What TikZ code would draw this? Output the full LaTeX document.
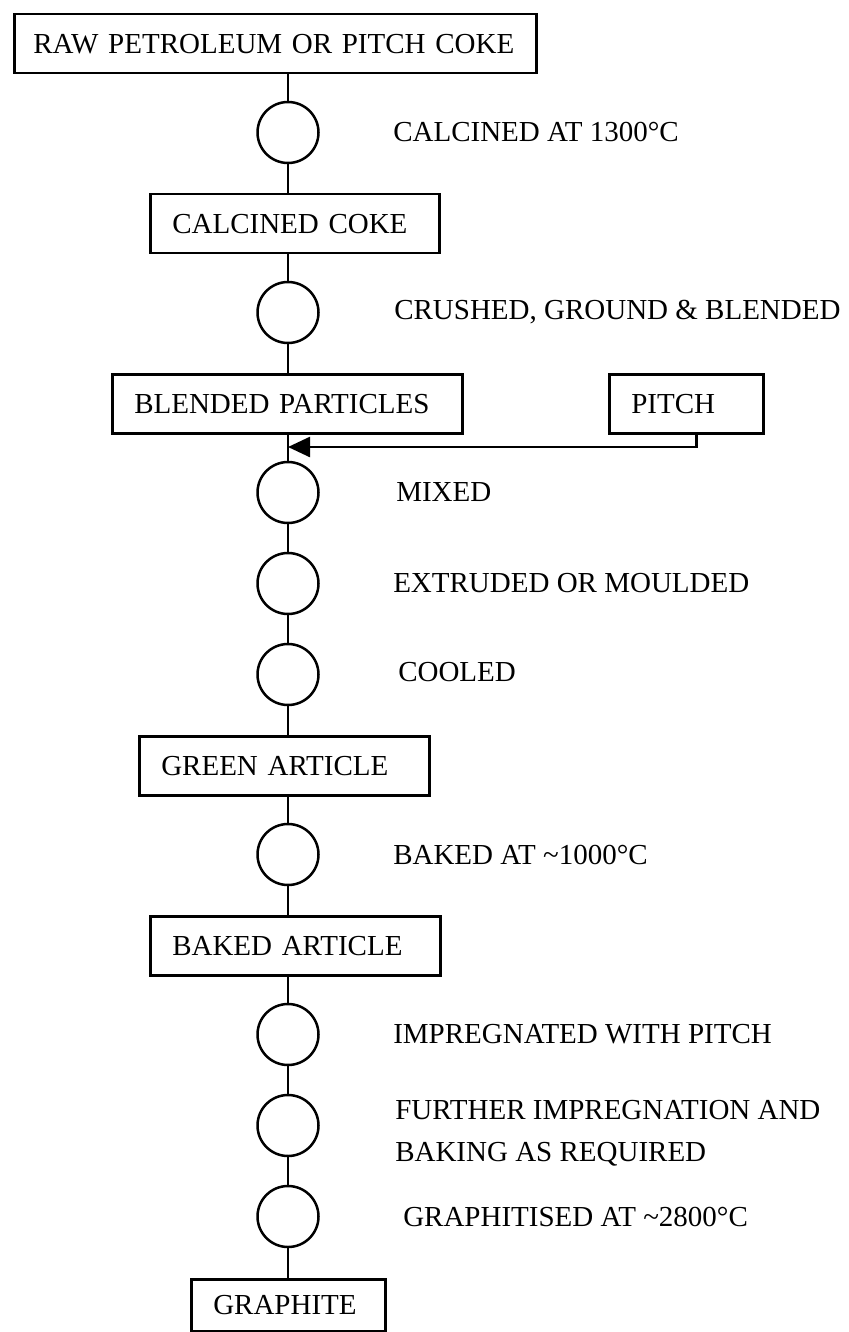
\documentclass[tikz,border=0pt]{standalone}
\usepackage{fontspec}
\setmainfont{Liberation Serif}
\usetikzlibrary{arrows.meta, positioning}

\begin{document}
\begin{tikzpicture}[x=0.5pt, y=-0.5pt, line width=1.25pt,
  font=\fontsize{14.5}{21}\selectfont,
  proc/.style={draw, rectangle, anchor=north west, align=left, inner xsep=11pt, inner ysep=0pt, minimum height=29.5pt},
  stage/.style={draw, circle, minimum size=30.5pt, inner sep=0pt},
  note/.style={anchor=west, inner sep=0pt, align=left}
  ]
  \useasboundingbox (0,0) rectangle (848,1332);

  % material boxes
  \node [proc, text width=242pt, inner xsep=9.5pt] (raw) at (13,13) {RAW PETROLEUM OR PITCH COKE};
  \node [proc, text width=122.5pt] (calc) at (149,193) {CALCINED COKE};
  \node [proc, text width=153pt] (blend) at (111,373) {BLENDED PARTICLES};
  \node [proc, text width=55pt] (pitch) at (608,373) {PITCH};
  \node [proc, text width=123pt] (green) at (138,735) {GREEN ARTICLE};
  \node [proc, text width=123pt] (baked) at (149,915) {BAKED ARTICLE};
  \node [proc, text width=75pt, minimum height=26pt] (graph) at (190,1278) {GRAPHITE};

  % process stages
  \node [stage] (s1) at (288,132.5) {};
  \node [stage] (s2) at (288,312.5) {};
  \node [stage] (s3) at (288,492.5) {};
  \node [stage] (s4) at (288,583.5) {};
  \node [stage] (s5) at (288,674.5) {};
  \node [stage] (s6) at (288,854.5) {};
  \node [stage] (s7) at (288,1034.5) {};
  \node [stage] (s8) at (288,1125.5) {};
  \node [stage] (s9) at (288,1216.5) {};

  % stage labels
  \node [note] (l1) at (392,132.5) {CALCINED AT 1300°C};
  \node [note] (l2) at (393,312.5) {CRUSHED, GROUND \& BLENDED};
  \node [note] (l3) at (395,492.5) {MIXED};
  \node [note] (l4) at (392,583.5) {EXTRUDED OR MOULDED};
  \node [note] (l5) at (397,672) {COOLED};
  \node [note] (l6) at (392,854.5) {BAKED AT \textasciitilde1000°C};
  \node [note] (l7) at (392,1034.5) {IMPREGNATED WITH PITCH};
  \node [note] (l8) at (394,1133) {FURTHER IMPREGNATION AND\\BAKING AS REQUIRED};
  \node [note] (l9) at (402,1216.5) {GRAPHITISED AT \textasciitilde2800°C};

  \coordinate (join) at (288,447);

  \draw (raw.south -| s1) -- (s1);
  \draw (s1) -- (calc.north -| s1);
  \draw (calc.south -| s2) -- (s2);
  \draw (s2) -- (blend.north -| s2);
  \draw (blend.south -| s3) -- (s3);
  \draw (s3) -- (s4);
  \draw (s4) -- (s5);
  \draw (s5) -- (green.north -| s5);
  \draw (green.south -| s6) -- (s6);
  \draw (s6) -- (baked.north -| s6);
  \draw (baked.south -| s7) -- (s7);
  \draw (s7) -- (s8);
  \draw (s8) -- (s9);
  \draw (s9) -- (graph.north -| s9);
  \draw [-{Triangle[length=11pt,width=10pt]}] ([xshift=5pt]pitch.south) |- (join);
\end{tikzpicture}
\end{document}
